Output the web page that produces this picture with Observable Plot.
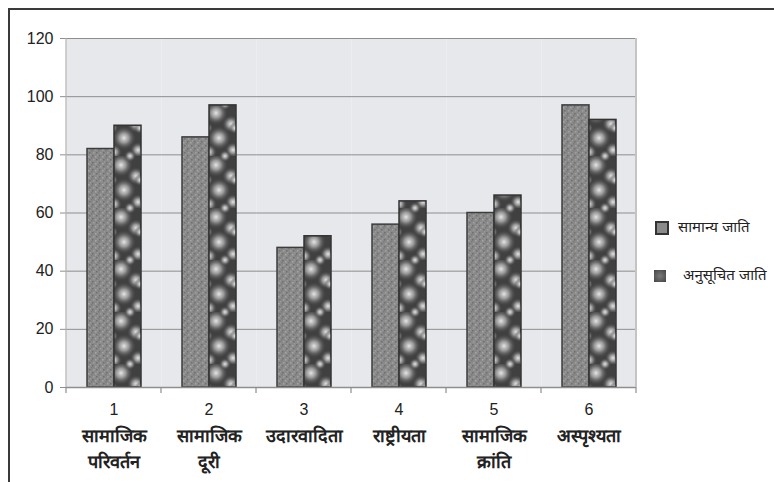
<!DOCTYPE html>
<html>
<head>
<meta charset="utf-8">
<script src="https://cdn.jsdelivr.net/npm/d3@7"></script>
<script src="https://cdn.jsdelivr.net/npm/@observablehq/plot@0.6"></script>
<style>
  html, body { margin: 0; padding: 0; background: #fff; }
  #wrap { position: relative; width: 774px; height: 482px; overflow: hidden; font-family: "Liberation Sans", Arial, "Noto Sans", sans-serif; }
  #border { position: absolute; left: 8px; top: 8px; width: 900px; height: 600px; border-top: 2px solid #3a3a3a; border-left: 2px solid #3a3a3a; }
  #chart { position: absolute; left: 0; top: 0; }
  .leg { position: absolute; font-size: 15px; color: #222; line-height: 16px; white-space: nowrap; }
  .sw { position: absolute; }
</style>
</head>
<body>
<div id="wrap">
  <div id="border"></div>
  <div id="chart"></div>
  <div id="legend"></div>
</div>
<script>
const categories = ["1", "2", "3", "4", "5", "6"];
const categoryNames = ["सामाजिक\nपरिवर्तन", "सामाजिक\nदूरी", "उदारवादिता", "राष्ट्रीयता", "सामाजिक\nक्रांति", "अस्पृश्यता"];
const series = ["सामान्य जाति", "अनुसूचित जाति"];
const generalCaste = [82, 86, 48, 56, 60, 97];
const scheduledCaste = [90, 97, 52, 64, 66, 92];
const yTicks = [0, 20, 40, 60, 80, 100, 120];

const rows = categories.flatMap((c, i) => [
  {cat: c, series: series[0], value: generalCaste[i]},
  {cat: c, series: series[1], value: scheduledCaste[i]}
]);

const chart = Plot.plot({
  width: 774,
  height: 482,
  marginLeft: 66,
  marginRight: 138,
  marginTop: 38,
  marginBottom: 95,
  style: {fontFamily: "'Liberation Sans', Arial, sans-serif", fontSize: "16px", color: "#222", background: "transparent"},
  fx: {domain: categories, paddingInner: 0, paddingOuter: 0, label: null, axis: null},
  x: {domain: series, paddingInner: 0, paddingOuter: 0.73, axis: null},
  y: {domain: [0, 120], label: null, axis: null},
  marks: [
    Plot.frame({fill: "#e6e8eb"}),
    Plot.gridY(yTicks, {stroke: "#8e8e8e", strokeOpacity: 1}),
    Plot.axisY(yTicks, {tickSize: 6, tickPadding: 7, stroke: "#8e8e8e", fontSize: 16, label: null}),
    Plot.barY(rows.filter(d => d.series === series[0]), {fx: "cat", x: "series", y: "value", fill: "url(#patA)", stroke: "#3c3c3c", strokeWidth: 1.5}),
    Plot.barY(rows.filter(d => d.series === series[1]), {fx: "cat", x: "series", y: "value", fill: "url(#patB)", stroke: "#333", strokeWidth: 1.5}),
    Plot.ruleY([0], {stroke: "#8e8e8e", strokeWidth: 1.5}),
    Plot.axisFx({anchor: "bottom", tickSize: 0, tickPadding: 16, fontSize: 16, label: null}),
    Plot.text(categories, {fx: d => d, text: (d, i) => categoryNames[i], frameAnchor: "bottom", lineAnchor: "top", dy: 36, fontWeight: "bold", fontSize: 18, lineHeight: 1.45, fill: "#222"})
  ]
});

document.getElementById("chart").appendChild(chart);

// patterns
const svg = d3.select(chart);
const defs = svg.insert("defs", ":first-child");
const rg = defs.append("radialGradient").attr("id", "blob");
rg.append("stop").attr("offset", "0%").attr("stop-color", "#e6e6e6").attr("stop-opacity", 1);
rg.append("stop").attr("offset", "40%").attr("stop-color", "#a8a8a8").attr("stop-opacity", 0.85);
rg.append("stop").attr("offset", "100%").attr("stop-color", "#444").attr("stop-opacity", 0);

const pa = defs.append("pattern").attr("id", "patA").attr("patternUnits", "userSpaceOnUse").attr("width", 7).attr("height", 7);
pa.append("rect").attr("width", 7).attr("height", 7).attr("fill", "#8a8a8a");
[[1, 1, "#6e6e6e"], [4, 2, "#a6a6a6"], [2, 5, "#a0a0a0"], [5, 5, "#707070"], [6, 0, "#9a9a9a"], [0, 3, "#7a7a7a"]].forEach(([x, y, c]) =>
  pa.append("rect").attr("x", x).attr("y", y).attr("width", 1.5).attr("height", 1.5).attr("fill", c));

const pb = defs.append("pattern").attr("id", "patB").attr("patternUnits", "userSpaceOnUse").attr("width", 28).attr("height", 52);
pb.append("rect").attr("width", 28).attr("height", 52).attr("fill", "#404040");
[[9, 9, 12], [24, 20, 9], [12, 34, 12], [26, 46, 8], [2, 48, 8], [0, 24, 6], [28, 24, 6], [18, 0, 6], [18, 52, 6]].forEach(([cx, cy, r]) =>
  pb.append("circle").attr("cx", cx).attr("cy", cy).attr("r", r).attr("fill", "url(#blob)"));

// boundary ticks and plot edges derived from the library's scales
const fx = chart.scale("fx");
const y = chart.scale("y");
const y0 = y.apply(0), y1 = y.apply(120);
const bounds = categories.map(c => fx.apply(c)).concat([fx.apply(categories[categories.length - 1]) + fx.bandwidth]);
const g = svg.append("g").attr("stroke", "#8e8e8e").attr("stroke-width", 1.2);
bounds.forEach(b => g.append("line").attr("x1", b).attr("x2", b).attr("y1", y0).attr("y2", y0 + 6));
g.append("line").attr("x1", bounds[0]).attr("x2", bounds[0]).attr("y1", y0).attr("y2", y1).attr("stroke", "#b0b0b0");
g.append("line").attr("x1", bounds[bounds.length - 1]).attr("x2", bounds[bounds.length - 1]).attr("y1", y0).attr("y2", y1).attr("stroke", "#c4c4c4").attr("stroke-width", 2);

// legend
const legend = document.getElementById("legend");
const swatches = [
  {left: 655, top: 221, size: 10, bg: "#8a8a8a", border: "2px solid #333", textLeft: 678, textTop: 219},
  {left: 654, top: 270, size: 12, bg: "radial-gradient(#7a7a7a, #444)", border: "none", textLeft: 683, textTop: 267}
];
series.forEach((s, i) => {
  const o = swatches[i];
  const sw = document.createElement("div");
  sw.className = "sw";
  Object.assign(sw.style, {left: o.left + "px", top: o.top + "px", width: o.size + "px", height: o.size + "px", background: o.bg, border: o.border});
  legend.appendChild(sw);
  const t = document.createElement("div");
  t.className = "leg";
  t.textContent = s;
  Object.assign(t.style, {left: o.textLeft + "px", top: o.textTop + "px"});
  legend.appendChild(t);
});
</script>
</body>
</html>
